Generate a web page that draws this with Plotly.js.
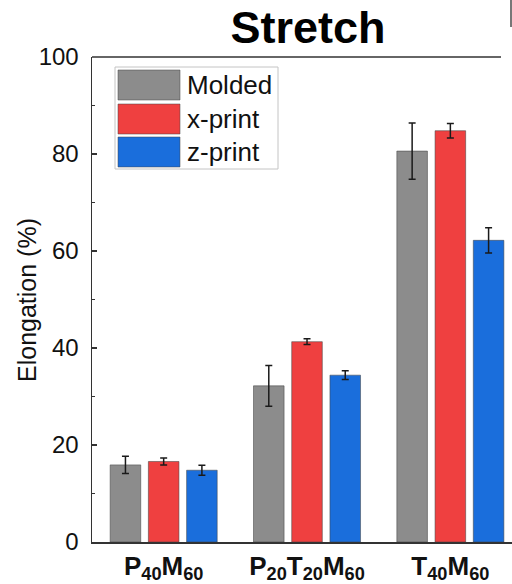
<!DOCTYPE html>
<html>
<head>
<meta charset="utf-8">
<script src="https://cdn.plot.ly/plotly-3.0.1.min.js"></script>
<style>
  html, body { margin: 0; padding: 0; background: #fff; overflow: hidden; }
  #chart { width: 512px; height: 584px; }
</style>
</head>
<body>
<div id="chart"></div>
<script>
// ---- data ----
const categories = ['P40M60', 'P20T20M60', 'T40M60'];
const tickLabels = [
  '<b>P<sub>40</sub>M<sub>60</sub></b>',
  '<b>P<sub>20</sub>T<sub>20</sub>M<sub>60</sub></b>',
  '<b>T<sub>40</sub>M<sub>60</sub></b>'
];
const seriesNames = ['Molded', 'x-print', 'z-print'];
const molded = [15.9, 32.2, 80.6];
const moldedErr = [1.8, 4.2, 5.8];
const xprint = [16.6, 41.3, 84.8];
const xprintErr = [0.7, 0.6, 1.5];
const zprint = [14.8, 34.4, 62.2];
const zprintErr = [1.05, 0.9, 2.6];
const yTicks = [0, 20, 40, 60, 80, 100];
const titleText = 'Stretch';
const yTitleText = 'Elongation (%)';

// ---- styles ----
const colors = ['#8c8c8c', '#ef4040', '#1a6edc'];
const FONT = 'Liberation Sans, Arial, sans-serif';

// plot area in pixels (for decorations)
const L = 92, T = 57, W = 512, H = 584, B = 42;
const PW = W - L, PH = H - T - B;
const px = x => (x - L) / PW;
const py = y => (H - B - y) / PH;

const values = [molded, xprint, zprint];
const errs = [moldedErr, xprintErr, zprintErr];

const traces = values.map((v, i) => ({
  type: 'bar',
  name: seriesNames[i],
  x: categories,
  y: v,
  marker: { color: colors[i], line: { color: 'rgba(70,70,70,0.55)', width: 1 } },
  error_y: { type: 'data', array: errs[i], visible: true, color: '#1a1a1a', thickness: 1.5, width: 3.5 },
  showlegend: false,
  hoverinfo: 'skip'
}));

// custom legend (large swatches like the reference)
const shapes = [];
const annotations = [];
shapes.push({ type: 'rect', xref: 'paper', yref: 'paper',
  x0: px(115), x1: px(278), y0: py(169), y1: py(67),
  line: { color: '#c4c4c4', width: 1 }, fillcolor: 'rgba(255,255,255,1)' });
const swTop = [70, 104, 137];
seriesNames.forEach((n, i) => {
  shapes.push({ type: 'rect', xref: 'paper', yref: 'paper',
    x0: px(118), x1: px(180), y0: py(swTop[i] + 30), y1: py(swTop[i]),
    line: { color: 'rgba(70,70,70,0.5)', width: 1 }, fillcolor: colors[i] });
  annotations.push({ xref: 'paper', yref: 'paper', x: px(185), y: py(swTop[i] + 15),
    xanchor: 'left', yanchor: 'middle', showarrow: false, text: n,
    font: { family: FONT, size: 26, color: '#111' } });
});
// y-axis title placed like the reference
annotations.push({ xref: 'paper', yref: 'paper', x: px(27), y: py(300),
  xanchor: 'center', yanchor: 'middle', showarrow: false, textangle: -90, text: yTitleText,
  font: { family: FONT, size: 25, color: '#111' } });
// top frame line (ends short of the right edge in the reference)
shapes.push({ type: 'line', xref: 'paper', yref: 'paper', x0: 0, x1: px(501), y0: 1, y1: 1,
  line: { color: '#333', width: 1.5 } });
// neighbouring-panel sliver at top right
shapes.push({ type: 'line', xref: 'paper', yref: 'paper', x0: px(511), x1: px(511), y0: py(0), y1: py(27),
  line: { color: '#777', width: 2 } });

const layout = {
  width: W, height: H,
  margin: { l: L, r: 0, t: T, b: B, pad: 0 },
  paper_bgcolor: '#fff', plot_bgcolor: '#fff',
  barmode: 'group', bargap: 0.2, bargroupgap: 0.2,
  title: { text: '<b>' + titleText + '</b>', font: { family: FONT, size: 45, color: '#000' },
           x: px(308), xref: 'paper', xanchor: 'center', y: 1 - 27 / H, yref: 'container', yanchor: 'middle' },
  xaxis: {
    type: 'category', range: [-0.5, 2.43], tickvals: categories, ticktext: tickLabels,
    showline: true, linecolor: '#333', linewidth: 1.5, mirror: false,
    ticks: '', showgrid: false, zeroline: false, fixedrange: true,
    tickfont: { family: FONT, size: 26, color: '#111' }
  },
  yaxis: {
    range: [0, 100], tickvals: yTicks, showline: true, linecolor: '#333', linewidth: 1.5, mirror: false,
    ticks: 'inside', ticklen: 5, tickcolor: '#333', tickwidth: 1.2,
    minor: { ticks: 'inside', ticklen: 3, dtick: 10, tickcolor: '#333', tickwidth: 1.2, showgrid: false },
    showgrid: false, zeroline: false, fixedrange: true, ticklabelstandoff: 7,
    tickfont: { family: FONT, size: 24, color: '#111' }
  },
  shapes: shapes,
  annotations: annotations,
  showlegend: false
};

Plotly.newPlot('chart', traces, layout, { displayModeBar: false, staticPlot: true });
</script>
</body>
</html>
